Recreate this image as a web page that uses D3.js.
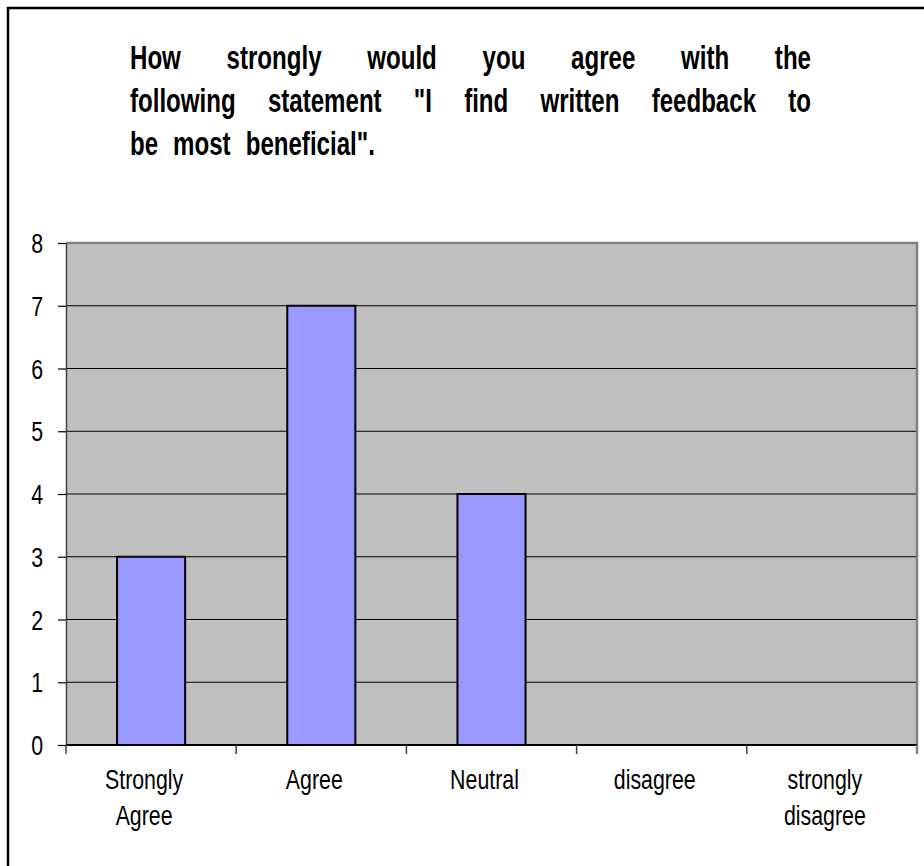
<!DOCTYPE html>
<html>
<head>
<meta charset="utf-8">
<script src="https://cdn.jsdelivr.net/npm/d3@7/dist/d3.min.js"></script>
<style>
  html, body { margin: 0; padding: 0; background: #ffffff; }
  svg { display: block; }
  text { font-family: "Liberation Sans", Arial, sans-serif; fill: #000; }
</style>
</head>
<body>
<svg id="chart" width="924" height="866"></svg>
<script>
// Survey responses
const categories = ["Strongly Agree", "Agree", "Neutral", "disagree", "strongly disagree"];
const categoryLines = [["Strongly", "Agree"], ["Agree"], ["Neutral"], ["disagree"], ["strongly", "disagree"]];
const counts = [3, 7, 4, 0, 0];
const yTicks = [0, 1, 2, 3, 4, 5, 6, 7, 8];
const titleLines = [
  ["How", "strongly", "would", "you", "agree", "with", "the"],
  ["following", "statement", "\"I", "find", "written", "feedback", "to"],
  ["be", "most", "beneficial\"."]
];

const W = 924, H = 866;
const plot = { left: 66, right: 917, top: 243, bottom: 745 };

const svg = d3.select("#chart");

// Outer chart frame (runs past the right and bottom edges of the page)
svg.append("rect")
  .attr("x", 8).attr("y", 8).attr("width", 1000).attr("height", 1000)
  .attr("fill", "#fff").attr("stroke", "#000").attr("stroke-width", 2.5);

// Title, justified across the first two lines; condensed bold text
const title = svg.append("g");
const titleLeft = 130, titleRight = 811, titleSize = 33, titleSqueeze = 0.73;
const baselines = [69, 112, 155];
titleLines.forEach((words, li) => {
  const nodes = words.map(w => title.append("text")
    .attr("font-size", titleSize).attr("font-weight", "bold").text(w));
  const widths = nodes.map(n => n.node().getComputedTextLength() * titleSqueeze);
  const total = d3.sum(widths);
  const justify = li < titleLines.length - 1;
  const gap = justify ? (titleRight - titleLeft - total) / (words.length - 1) : 15;
  let xPos = titleLeft;
  nodes.forEach((n, i) => {
    n.attr("transform", `translate(${xPos},${baselines[li]}) scale(${titleSqueeze},1)`);
    xPos += widths[i] + gap;
  });
});

// Scales
const x = d3.scaleBand().domain(categories).range([plot.left, plot.right]).padding(0);
const y = d3.scaleLinear().domain([0, 8]).range([plot.bottom, plot.top]);

// Plot area background
svg.append("rect")
  .attr("x", plot.left).attr("y", plot.top)
  .attr("width", plot.right - plot.left).attr("height", plot.bottom - plot.top)
  .attr("fill", "#c0c0c0");

// Horizontal gridlines
svg.append("g").selectAll("line")
  .data(yTicks.filter(t => t > 0 && t < 8))
  .join("line")
  .attr("x1", plot.left).attr("x2", plot.right)
  .attr("y1", d => y(d)).attr("y2", d => y(d))
  .attr("stroke", "#000").attr("stroke-width", 1.2);

// Plot border: top and right in gray
svg.append("path")
  .attr("d", `M${plot.left},${y(8)}H${plot.right}V${plot.bottom}`)
  .attr("fill", "none").attr("stroke", "#808080").attr("stroke-width", 2.5);

// Bars
const barW = x.bandwidth() * 0.4;
svg.append("g").selectAll("rect")
  .data(categories.map((c, i) => ({ c, v: counts[i] })).filter(d => d.v > 0))
  .join("rect")
  .attr("x", d => x(d.c) + (x.bandwidth() - barW) / 2)
  .attr("y", d => y(d.v))
  .attr("width", barW)
  .attr("height", d => y(0) - y(d.v))
  .attr("fill", "#9999ff")
  .attr("stroke", "#000").attr("stroke-width", 2);

// Y axis
const labelSqueeze = 0.79;
const yAxis = svg.append("g")
  .attr("transform", `translate(${plot.left},0)`)
  .call(d3.axisLeft(y).tickValues(yTicks).tickSize(8).tickSizeOuter(0).tickFormat(d3.format("d")));
yAxis.select(".domain").attr("stroke", "#404040").attr("stroke-width", 1.5);
yAxis.selectAll(".tick line").attr("stroke", "#000").attr("stroke-width", 1.2);
yAxis.selectAll(".tick text")
  .attr("font-size", 27).attr("font-family", "Liberation Sans, Arial, sans-serif")
  .attr("fill", "#000")
  .attr("x", -23 / labelSqueeze).attr("dy", "0.36em")
  .attr("transform", `scale(${labelSqueeze},1)`);

// X axis: ticks at category boundaries
const xAxis = svg.append("g");
xAxis.append("line")
  .attr("x1", plot.left).attr("x2", plot.right)
  .attr("y1", plot.bottom).attr("y2", plot.bottom)
  .attr("stroke", "#000").attr("stroke-width", 2);
const bounds = categories.map(c => x(c)).concat([x(categories[categories.length - 1]) + x.bandwidth()]);
xAxis.selectAll("line.tk")
  .data(bounds)
  .join("line").attr("class", "tk")
  .attr("x1", d => d).attr("x2", d => d)
  .attr("y1", plot.bottom).attr("y2", plot.bottom + 9)
  .attr("stroke", (d, i) => i === bounds.length - 1 ? "#808080" : "#404040")
  .attr("stroke-width", (d, i) => i === bounds.length - 1 ? 2.5 : 1.5);

// Category labels
categories.forEach((c, i) => {
  const cx = x(c) + x.bandwidth() / 2 - 7;
  categoryLines[i].forEach((ln, j) => {
    svg.append("text")
      .attr("font-size", 27).attr("text-anchor", "middle")
      .attr("transform", `translate(${cx},${789 + j * 36}) scale(${labelSqueeze},1)`)
      .text(ln);
  });
});
</script>
</body>
</html>
